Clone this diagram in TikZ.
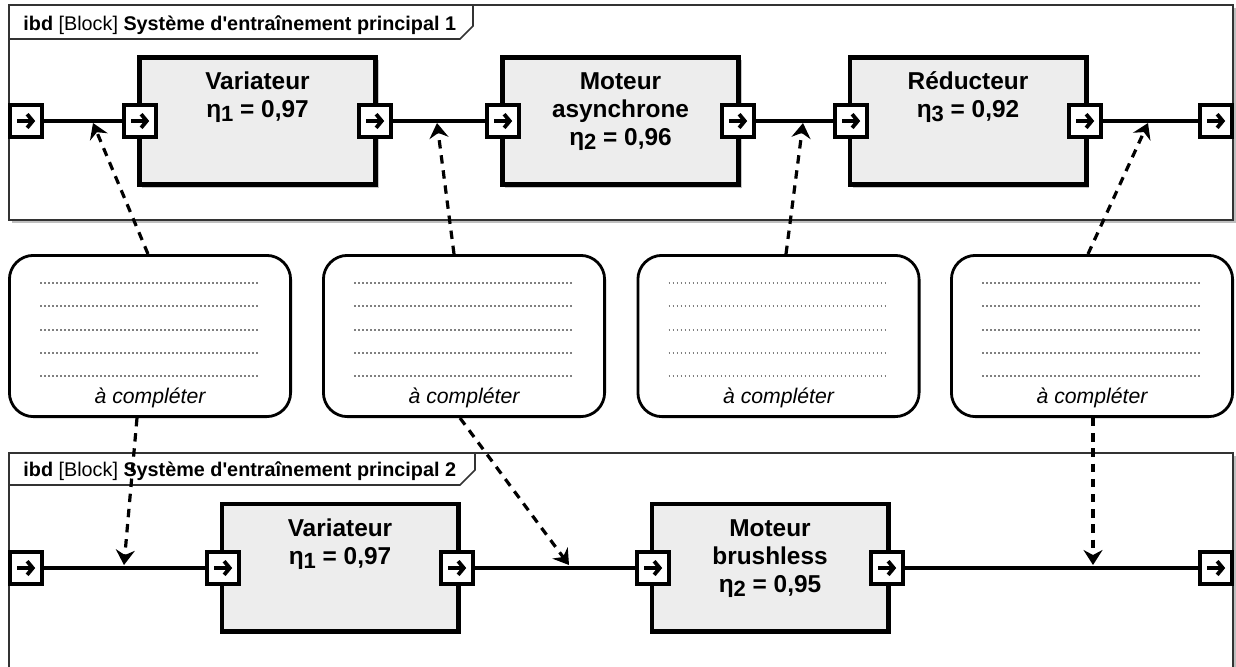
\documentclass[tikz,border=0pt]{standalone}
\usepackage{fontspec}
\setmainfont{Liberation Sans}
\usetikzlibrary{arrows.meta,shadows}
\newcommand\sbs[1]{\raisebox{-2.2pt}{\fontsize{11}{11}\selectfont #1}}
\begin{document}
\begin{tikzpicture}[x=0.5pt,y=-0.5pt,
  frame/.style={draw=black!80, line width=0.85pt},
  framebg/.style={frame, fill=white, drop shadow={shadow xshift=1.3pt, shadow yshift=-1.3pt, fill=black!25, opacity=1}},
  htext/.style={anchor=base west, inner sep=0pt, font=\fontsize{9.9}{12}\selectfont},
  block/.style={draw, line width=2.3pt, fill=black!7, minimum width=118.2pt, minimum height=63.7pt,
    drop shadow={shadow xshift=1.5pt, shadow yshift=-1.5pt, fill=black!22, opacity=1}},
  btext/.style={anchor=north, inner sep=0pt, align=center, font=\bfseries\fontsize{12.2}{14}\selectfont},
  port/.style={draw, fill=white, line width=1.9pt, minimum size=15.7pt, inner sep=0pt,
    path picture={\draw[line width=1.9pt, -{Straight Barb[length=2.8pt,width=6.8pt]}]
      ([xshift=-4.4pt]path picture bounding box.center) -- ([xshift=4.6pt]path picture bounding box.center);}},
  wire/.style={line width=2.4pt},
  note/.style={draw, line width=1.4pt, rounded corners=12pt, fill=white, minimum width=140.6pt, minimum height=80.6pt},
  dotline/.style={black!50, line width=0.75pt, dash pattern=on 0.75pt off 1.25pt},
  ntext/.style={anchor=base, inner sep=0pt, font=\itshape\fontsize{10.6}{12}\selectfont},
  dep/.style={line width=1.6pt, dash pattern=on 4.2pt off 3.4pt, -{Stealth[length=7.5pt,width=9.5pt,inset=2.5pt]}}
]
\useasboundingbox (0,0) rectangle (1236,666);

% ---------- frame 1 ----------
\path[framebg] (9,5) rectangle (1233,220);
\draw[frame] (9,39) -- (460,39) -- (473,26) -- (473,5);
\node[htext] (h1) at (23,30) {\textbf{ibd} [Block] \textbf{Système d\textquotesingle entraînement principal 1}};

% ---------- frame 2 ----------
\path[framebg] (9,453) rectangle (1233,690);
\draw[frame] (9,485) -- (460,485) -- (475,470) -- (475,453);
\node[htext] (h2) at (23,476) {\textbf{ibd} [Block] \textbf{Système d\textquotesingle entraînement principal 2}};

% ---------- blocks row 1 ----------
\node[block] (V1) at (257.5,121) {};
\node[block] (M1) at (620.5,121) {};
\node[block] (R1) at (968,121) {};
\node[btext] (V1t) at (257.5,69) {\rule{0pt}{10pt}Variateur\\η\sbs{1} = 0,97};
\node[btext] (M1t) at (620.5,69) {\rule{0pt}{10pt}Moteur\\asynchrone\\η\sbs{2} = 0,96};
\node[btext] (R1t) at (968,69) {\rule{0pt}{10pt}Réducteur\\η\sbs{3} = 0,92};

% ---------- blocks row 2 ----------
\node[block] (V2) at (340,567.5) {};
\node[block] (M2) at (770,567.5) {};
\node[btext] (V2t) at (340,516) {\rule{0pt}{10pt}Variateur\\η\sbs{1} = 0,97};
\node[btext] (M2t) at (770,516) {\rule{0pt}{10pt}Moteur\\brushless\\η\sbs{2} = 0,95};

% ---------- ports row 1 ----------
\node[port] (P1in) at (26,121) {};
\node[port] (V1in) at (140,121) {};
\node[port] (V1out) at (375,121) {};
\node[port] (M1in) at (503,121) {};
\node[port] (M1out) at (738,121) {};
\node[port] (R1in) at (851,121) {};
\node[port] (R1out) at (1085,121) {};
\node[port] (P1out) at (1216,121) {};

% ---------- ports row 2 ----------
\node[port] (P2in) at (26,568) {};
\node[port] (V2in) at (223,568) {};
\node[port] (V2out) at (457,568) {};
\node[port] (M2in) at (653,568) {};
\node[port] (M2out) at (887,568) {};
\node[port] (P2out) at (1216,568) {};

% ---------- wires ----------
\draw[wire] (P1in) -- (V1in);
\draw[wire] (V1out) -- (M1in);
\draw[wire] (M1out) -- (R1in);
\draw[wire] (R1out) -- (P1out);
\draw[wire] (P2in) -- (V2in);
\draw[wire] (V2out) -- (M2in);
\draw[wire] (M2out) -- (P2out);

% ---------- notes ----------
\node[note] (n1) at (150,336) {};
\node[note] (n2) at (464,336) {};
\node[note] (n3) at (778.5,336) {};
\node[note] (n4) at (1092,336) {};
\foreach \n in {n1,n2,n3,n4}{
  \foreach \dy in {26.5,15,3,-8.5,-20}{
    \draw[dotline] ([shift={(-55pt,\dy pt)}]\n.center) -- ([shift={(54pt,\dy pt)}]\n.center);
  }
}
\node[ntext] (t1) at ([yshift=-33.5pt]n1.center) {à compléter};
\node[ntext] (t2) at ([yshift=-33.5pt]n2.center) {à compléter};
\node[ntext] (t3) at ([yshift=-33.5pt]n3.center) {à compléter};
\node[ntext] (t4) at ([yshift=-33.5pt]n4.center) {à compléter};

% ---------- dependency arrows ----------
\coordinate (a1) at (93,123);
\coordinate (a2) at (437,123);
\coordinate (a3) at (803,123);
\coordinate (a4) at (1148,123);
\coordinate (b1) at (124,565);
\coordinate (b2) at (569,565);
\coordinate (b3) at (1093,565);
\draw[dep] ([xshift=-1pt]n1.north) -- (a1);
\draw[dep] ([xshift=-5pt]n2.north) -- (a2);
\draw[dep] ([xshift=3.75pt]n3.north) -- (a3);
\draw[dep] ([xshift=-2pt]n4.north) -- (a4);
\draw[dep] ([xshift=-6.5pt]n1.south) -- (b1);
\draw[dep] ([xshift=-2pt]n2.south) -- (b2);
\draw[dep] ([xshift=0.5pt]n4.south) -- (b3);
\end{tikzpicture}
\end{document}
